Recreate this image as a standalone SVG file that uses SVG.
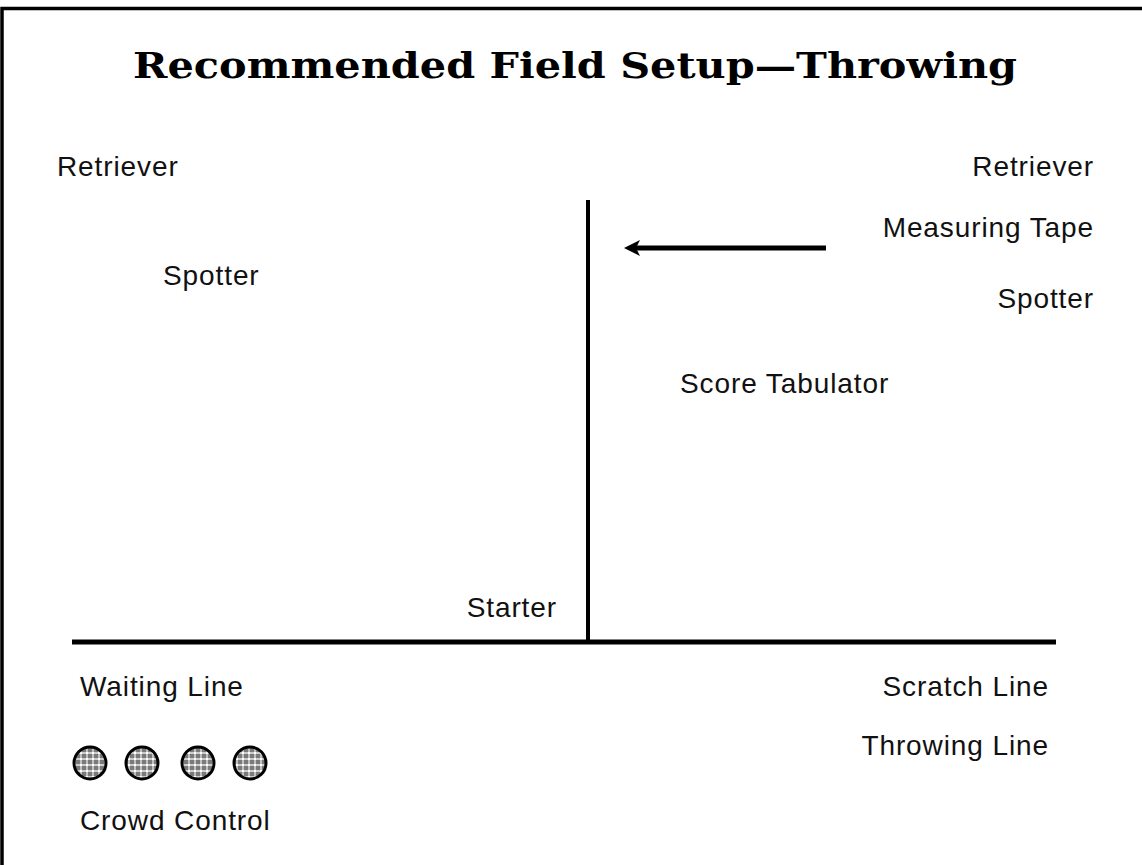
<svg xmlns="http://www.w3.org/2000/svg" width="1142" height="865" viewBox="0 0 1142 865">
<style>
.lbl{font-family:"Liberation Sans",Arial,sans-serif;font-size:28px;letter-spacing:0.9px;fill:#111}
.end{text-anchor:end}
.title{font-family:"DejaVu Serif",serif;font-weight:bold;font-size:35px;fill:#000}
.ln{stroke:#000;fill:none}
.cc{fill:url(#dots);stroke:#000;stroke-width:3}
</style>
<defs>
<pattern id="dots" width="6" height="6" patternUnits="userSpaceOnUse">
<rect width="6" height="6" fill="#7a7a7a"/>
<path d="M0,3H6M3,0V6" stroke="#e8e8e8" stroke-width="1.3"/>
<rect x="2" y="2" width="2" height="2" fill="#fff"/>
</pattern>
</defs>
<rect width="1142" height="865" fill="#fff"/>
<path class="ln" d="M2,865V8.5H1142" stroke-width="3.5"/>
<text class="title" x="575" y="78" text-anchor="middle" textLength="884" lengthAdjust="spacingAndGlyphs">Recommended Field Setup—Throwing</text>
<g id="connectors">
<line class="ln" x1="72" y1="642" x2="1056" y2="642" stroke-width="5"/>
<line class="ln" x1="588" y1="200" x2="588" y2="642" stroke-width="4"/>
<line class="ln" x1="826" y1="248" x2="636" y2="248" stroke-width="5"/>
<path d="M624,248L640,240L636,248L640,256Z" fill="#000"/>
</g>
<g id="retriever-left"><text class="lbl" x="57" y="176">Retriever</text></g>
<g id="retriever-right"><text class="lbl end" x="1094" y="176">Retriever</text></g>
<g id="measuring-tape"><text class="lbl end" x="1094" y="237">Measuring Tape</text></g>
<g id="spotter-left"><text class="lbl" x="163" y="285">Spotter</text></g>
<g id="spotter-right"><text class="lbl end" x="1094" y="308">Spotter</text></g>
<g id="score-tabulator"><text class="lbl" x="680" y="393">Score Tabulator</text></g>
<g id="starter"><text class="lbl end" x="557" y="617">Starter</text></g>
<g id="waiting-line"><text class="lbl" x="80" y="696">Waiting Line</text></g>
<g id="scratch-line"><text class="lbl end" x="1049" y="696">Scratch Line</text></g>
<g id="throwing-line"><text class="lbl end" x="1049" y="755">Throwing Line</text></g>
<g id="crowd-control">
<circle class="cc" cx="90" cy="763" r="16"/>
<circle class="cc" cx="142" cy="763" r="16"/>
<circle class="cc" cx="198" cy="763" r="16"/>
<circle class="cc" cx="250" cy="763" r="16"/>
<text class="lbl" x="80" y="830">Crowd Control</text>
</g>
</svg>
